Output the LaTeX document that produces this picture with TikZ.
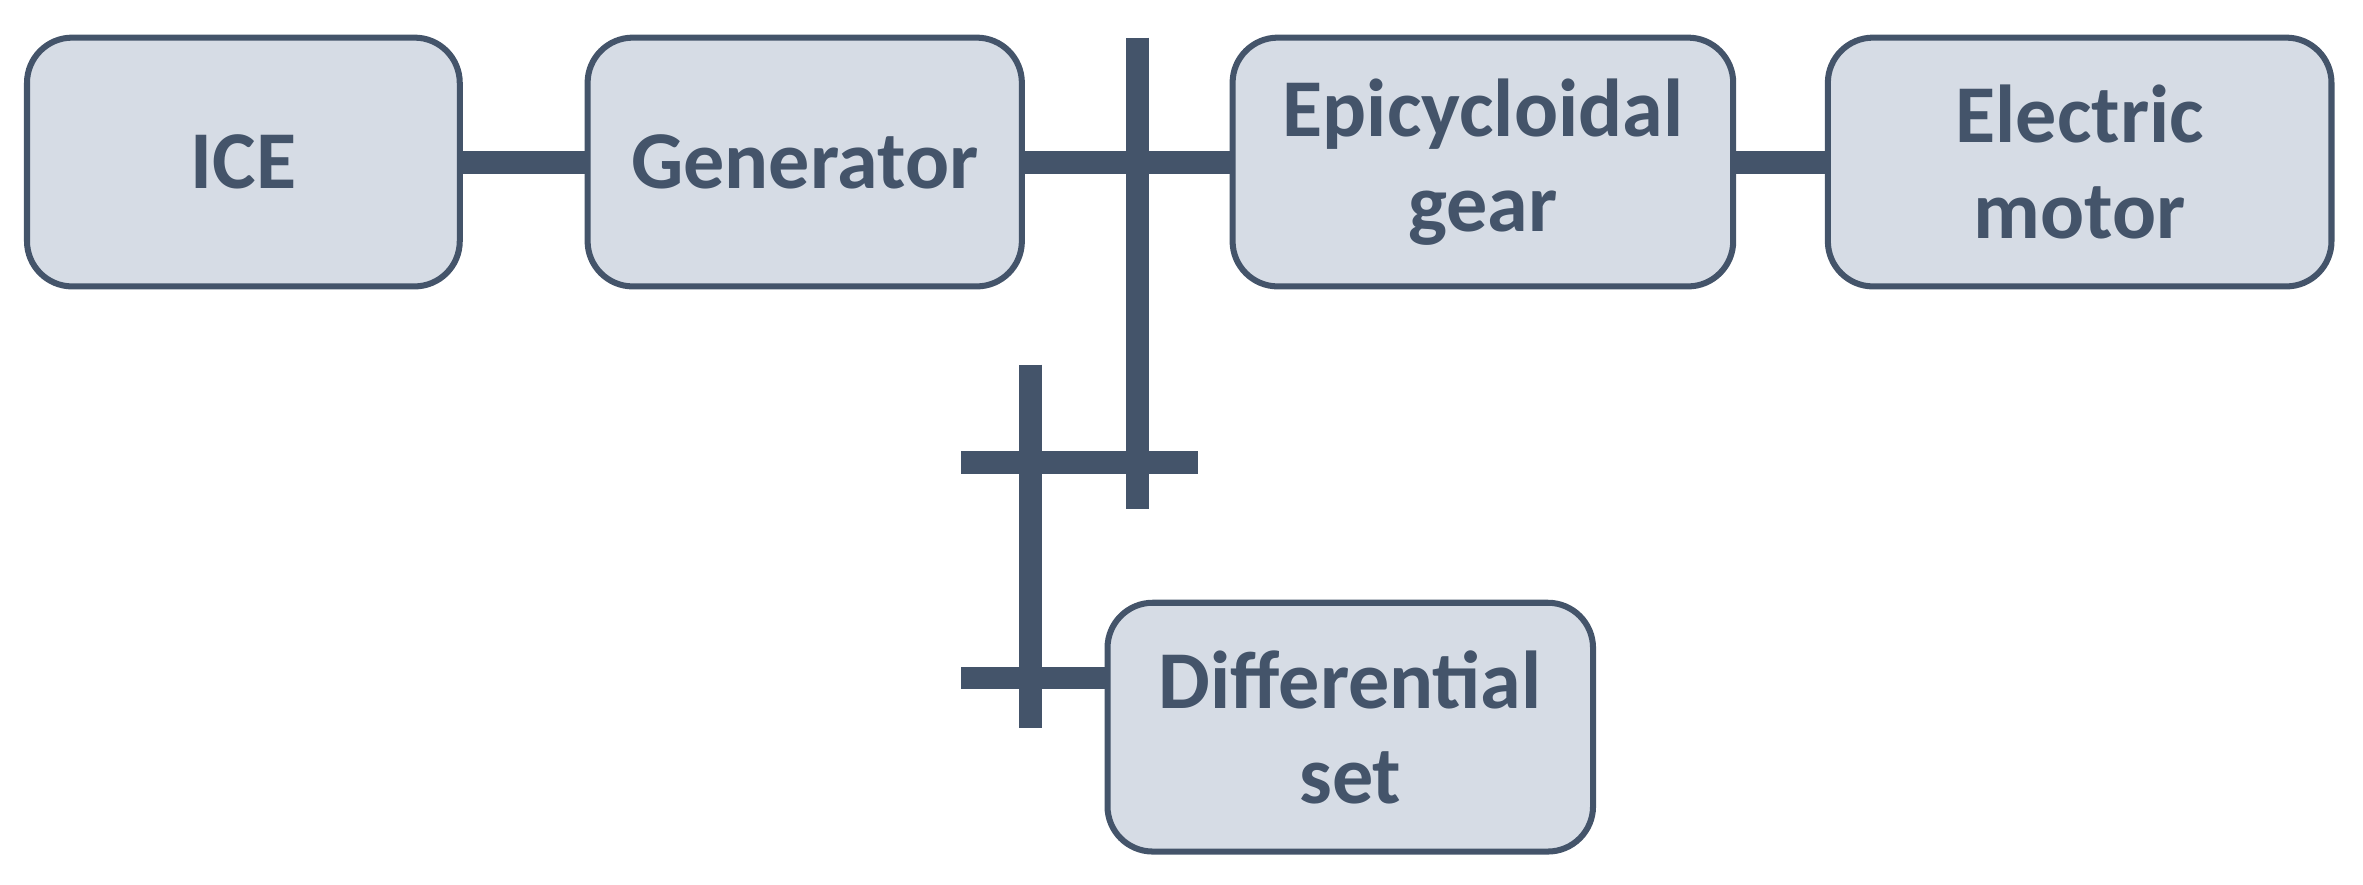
\documentclass[tikz,border=0pt]{standalone}
\usepackage{fontspec}
\setmainfont{Carlito}
\definecolor{dk}{HTML}{44546A}
\definecolor{fl}{HTML}{D6DCE5}
\begin{document}
\begin{tikzpicture}[x=0.01cm,y=-0.01cm,
  blk/.style={draw=dk,fill=fl,line width=0.04cm,rounded corners=0.3cm,text=dk,font=\bfseries\fontsize{15.5}{18}\selectfont,align=center,inner sep=0},
  bar/.style={draw=dk,line width=0.15cm}]
\useasboundingbox (0,0) rectangle (1568,587);
\draw[bar] (755,25) -- (755,338);
\draw[bar] (638,307) -- (795,307);
\draw[bar] (684,242) -- (684,483);
\draw[bar] (638,450) -- (735,450);
\draw[bar] (305,108) -- (390,108);
\draw[bar] (678,108) -- (818,108);
\draw[bar] (1150,108) -- (1213,108);
\node[blk,minimum width=2.87cm,minimum height=1.65cm] (ice) at (161.5,107.5) {ICE};
\node[blk,minimum width=2.88cm,minimum height=1.65cm] (gen) at (534,107.5) {Generator};
\node[blk,minimum width=3.32cm,minimum height=1.65cm] (epi) at (984,107.5) {Epicycloidal\\gear};
\node[blk,minimum width=3.34cm,minimum height=1.65cm] (em) at (1380,107.5) {Electric\\motor};
\node[blk,minimum width=3.22cm,minimum height=1.65cm] (diff) at (896,482.5) {Differential\\set};
\end{tikzpicture}
\end{document}
